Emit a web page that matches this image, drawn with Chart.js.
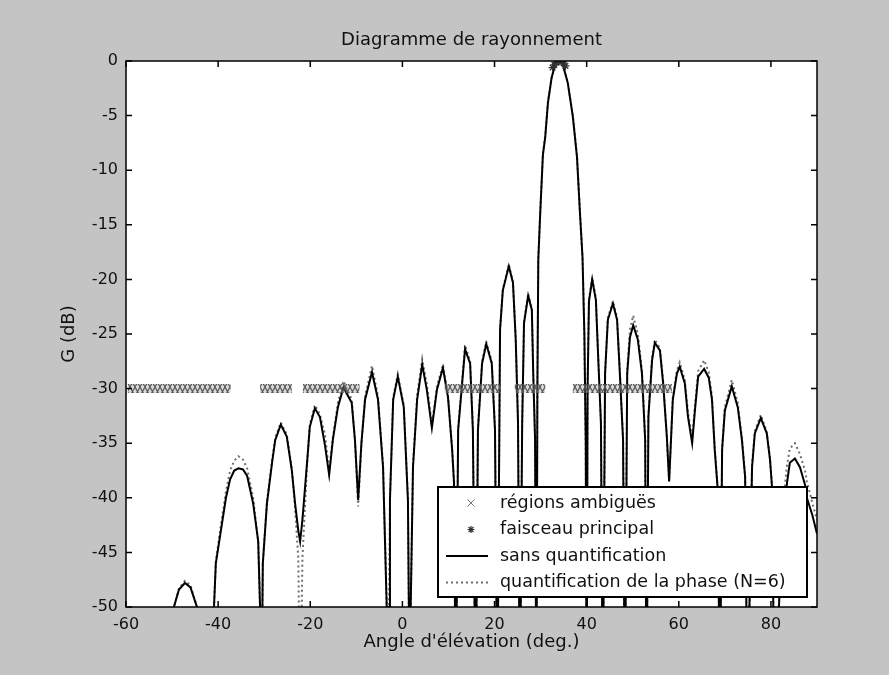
<!DOCTYPE html>
<html>
<head>
<meta charset="utf-8">
<script src="https://cdn.jsdelivr.net/npm/chart.js@4.4.0/dist/chart.umd.min.js"></script>
<style>
  html, body { margin: 0; padding: 0; background: #c4c4c4; }
</style>
</head>
<body>
<canvas id="myChart" width="889" height="675"></canvas>
<script>
// angle (deg) and gain (dB); nulls below -50 dB are clipped by the axis
const angle = [-60, -55, -51.5, -49.6, -48.5, -47.2, -46.0, -44.6, -43.0, -40.9,
  -40.5, -39.4, -38.3, -37.4, -36.5, -35.6, -34.6, -33.7, -32.4, -31.3,
  -30.9, -30.6, -30.3, -29.4, -28.3, -27.6, -26.4, -25.1, -24.0, -23.3,
  -22.6, -22.2, -21.7, -20.7, -20.1, -19.0, -17.9, -16.8, -15.9, -15.1,
  -14.0, -12.8, -11.0, -10.3, -9.6, -8.9, -8.1, -6.6, -5.3, -4.2,
  -3.4, -3.2, -2.9, -2.7, -2.0, -1.0, 0.3, 1.2, 1.4, 1.6,
  1.8, 2.3, 3.2, 4.3, 5.3, 6.4, 7.5, 8.8, 9.9, 10.8,
  11.2, 11.6, 12.1, 13.6, 14.7, 15.3, 15.9, 16.4, 17.3, 18.2,
  19.4, 20.1, 20.6, 21.2, 21.8, 23.1, 24.0, 24.6, 25.1, 25.5,
  26.0, 26.4, 27.3, 28.1, 28.4, 28.8, 29.1, 29.3, 29.5, 29.9,
  30.5, 31.0, 31.6, 32.4, 33.2, 34.0, 34.8, 35.9, 37.0, 37.9,
  38.5, 39.1, 39.5, 39.8, 40.0, 40.2, 40.5, 41.2, 42.0, 42.5,
  43.1, 43.5, 44.0, 44.6, 45.7, 46.6, 47.2, 47.9, 48.3, 48.8,
  49.4, 50.1, 51.1, 52.0, 52.7, 53.0, 53.4, 54.2, 54.8, 55.9,
  56.6, 57.4, 57.9, 58.7, 59.6, 60.2, 61.3, 62.0, 62.9, 63.5,
  64.2, 65.5, 66.5, 67.2, 67.8, 68.5, 68.9, 69.4, 70.0, 71.5,
  72.8, 73.7, 74.4, 74.9, 75.9, 76.5, 77.8, 79.1, 79.8, 80.2,
  80.8, 82.5, 83.5, 84.1, 85.2, 86.3, 87.4, 87.8, 89.0, 90.0]

const gainSans = [-62, -68, -62, -50, -48.4, -47.8, -48.2, -50, -64, -50,
  -46, -43, -40, -38.3, -37.5, -37.3, -37.4, -38, -40.5, -44,
  -50, -60, -46, -40.5, -36.8, -34.7, -33.3, -34.4, -37.5, -40.5,
  -43, -44, -42, -36.8, -33.5, -31.8, -32.6, -35.2, -37.9, -34.7,
  -31.7, -29.9, -31.3, -34.7, -40.2, -35, -31, -28.5, -31, -37.2,
  -50, -60, -50, -40.2, -31, -28.9, -31.7, -40.2, -50, -60,
  -50, -37.2, -31, -27.8, -30.1, -33.6, -30.1, -28.1, -30.8, -35.6,
  -38.6, -60, -33.8, -26.4, -27.7, -33.8, -60, -33.8, -27.7, -25.9,
  -27.7, -33.8, -60, -24.6, -21, -18.8, -20.3, -25.5, -33.2, -60,
  -33.2, -24, -21.5, -22.8, -28.6, -34.7, -60, -30, -18.2, -14.1,
  -8.6, -7, -3.8, -1.5, -0.3, 0, -0.3, -2, -5.1, -8.8,
  -13.6, -18, -25, -35, -60, -30, -22, -20, -21.9, -27.1,
  -33.2, -60, -28.6, -23.7, -22.2, -23.7, -28.6, -34.7, -60, -28.6,
  -25.3, -24.2, -25.5, -28.6, -34.7, -60, -32.6, -27.4, -25.8, -26.5,
  -29.5, -34.4, -38.5, -31, -28.6, -28, -29.5, -32.6, -35, -32,
  -28.9, -28.2, -29, -31, -35.6, -39.5, -60, -35.6, -32, -29.8,
  -31.7, -34.7, -38.1, -60, -37.2, -34.1, -32.7, -34.1, -36.5, -38.8,
  -60, -42, -38.6, -36.8, -36.4, -37.2, -38.8, -40, -41.6, -43.3]

const gainQuant = [-61, -67, -62, -50, -48.3, -47.6, -48, -50, -63, -50,
  -45.8, -42.5, -39.4, -37.5, -36.6, -36.2, -36.5, -37.3, -40, -44,
  -50, -60, -46, -40.3, -36.6, -34.5, -33.1, -34.2, -37.3, -41,
  -45.5, -60, -45.5, -37, -33.3, -31.5, -32.4, -34.2, -37.6, -34.5,
  -31.3, -29.3, -31, -34.8, -40.8, -35.2, -30.7, -27.9, -30.7, -37,
  -50, -60, -50, -40, -30.8, -28.7, -31.5, -40, -50, -60,
  -50, -37, -30.6, -27.3, -29.6, -33.3, -29.8, -27.8, -30.6, -35.5,
  -38.6, -60, -33.6, -26, -27.5, -33.6, -60, -33.6, -27.5, -25.7,
  -27.5, -33.6, -60, -24.5, -20.9, -18.6, -20.2, -25.4, -33, -60,
  -33, -23.9, -21.3, -22.7, -28.5, -34.6, -60, -30, -18, -14,
  -8.5, -6.8, -3.7, -1.5, -0.3, 0, -0.3, -2, -5, -8.7,
  -13.5, -18, -25, -35, -60, -30, -21.8, -19.8, -21.7, -27,
  -33, -60, -28.4, -23.5, -22, -23.5, -28.4, -34.6, -60, -28.2,
  -24.6, -23.3, -25, -28.3, -34.6, -60, -32.4, -27.1, -25.5, -26.3,
  -29.3, -34.3, -38.5, -30.8, -28.3, -27.6, -29.2, -32.2, -34.5, -31.6,
  -28.4, -27.4, -28.5, -30.7, -35.4, -39.5, -60, -35.4, -31.7, -29.2,
  -31.3, -34.5, -38, -60, -37, -33.9, -32.4, -34, -36.4, -38.8,
  -60, -41, -37, -35.5, -35, -36, -37.5, -38.5, -40.5, -42]

// ambiguous regions, drawn at -30 dB
const regionStart = [-59.6, -30.9, -21.6, 9.2, 24.4, 37.0]
const regionEnd = [-37.3, -24.0, -9.3, 21.2, 31.0, 58.5]
const regionLevel = -30

// main beam markers
const beamAngle = [32.6, 33.0, 33.4, 33.8, 34.2, 34.6, 35.0, 35.4]
const beamGain = [-0.6, -0.35, -0.15, -0.03, 0, -0.05, -0.2, -0.45]

const xTicks = [-60, -40, -20, 0, 20, 40, 60, 80]
const yTicks = [-50, -45, -40, -35, -30, -25, -20, -15, -10, -5, 0]

const legendLabels = ['régions ambiguës', 'faisceau principal', 'sans quantification', 'quantification de la phase (N=6)']

const FONT = "'DejaVu Sans', sans-serif"
const TXT = '#111'

function points(xs, ys) {
  return xs.map((x, i) => ({ x: x, y: ys[i] }))
}

let regionData = []
regionStart.forEach((s, i) => {
  regionData.push({ x: s, y: regionLevel }, { x: regionEnd[i], y: regionLevel }, { x: regionEnd[i], y: null })
})

// dense little x's, like a row of markers
function crossPattern() {
  const c = document.createElement('canvas')
  c.width = 5
  c.height = 9
  const g = c.getContext('2d')
  g.fillStyle = 'rgba(150,150,150,0.35)'
  g.fillRect(0, 0, 5, 9)
  g.strokeStyle = '#555'
  g.lineWidth = 1.1
  g.beginPath()
  g.moveTo(0, 0); g.lineTo(5, 9)
  g.moveTo(5, 0); g.lineTo(0, 9)
  g.stroke()
  return g.createPattern(c, 'repeat')
}

// box, inward ticks and the legend in the lower right corner
const frameLegend = {
  id: 'frameLegend',
  beforeDatasetsDraw(chart) {
    const { ctx, chartArea: a } = chart
    ctx.save()
    ctx.fillStyle = '#fff'
    ctx.fillRect(a.left, a.top, a.right - a.left, a.bottom - a.top)
    ctx.restore()
  },
  afterDraw(chart) {
    const { ctx, chartArea: a } = chart
    const x = chart.scales.x, y = chart.scales.y
    ctx.save()
    ctx.strokeStyle = '#000'
    ctx.lineWidth = 1.5
    ctx.strokeRect(a.left, a.top, a.right - a.left, a.bottom - a.top)
    ctx.beginPath()
    xTicks.forEach(v => {
      const px = x.getPixelForValue(v)
      ctx.moveTo(px, a.bottom); ctx.lineTo(px, a.bottom - 6)
      ctx.moveTo(px, a.top); ctx.lineTo(px, a.top + 6)
    })
    yTicks.forEach(v => {
      const py = y.getPixelForValue(v)
      ctx.moveTo(a.left, py); ctx.lineTo(a.left + 6, py)
      ctx.moveTo(a.right, py); ctx.lineTo(a.right - 6, py)
    })
    ctx.stroke()

    const w = 369, h = 110
    const lx = a.right - 10 - w, ly = a.bottom - 10 - h
    ctx.fillStyle = '#fff'
    ctx.fillRect(lx, ly, w, h)
    ctx.lineWidth = 2
    ctx.strokeRect(lx, ly, w, h)

    ctx.font = '17.5px ' + FONT
    ctx.textBaseline = 'middle'
    ctx.textAlign = 'left'
    legendLabels.forEach((t, i) => {
      const ry = ly + 16 + i * 26.5
      const sx = lx + 33
      ctx.beginPath()
      if (i === 0) {
        ctx.strokeStyle = '#777'; ctx.lineWidth = 1; ctx.setLineDash([])
        ctx.moveTo(sx - 3.5, ry - 3.5); ctx.lineTo(sx + 3.5, ry + 3.5)
        ctx.moveTo(sx + 3.5, ry - 3.5); ctx.lineTo(sx - 3.5, ry + 3.5)
      } else if (i === 1) {
        ctx.strokeStyle = '#333'; ctx.lineWidth = 1.2; ctx.setLineDash([])
        for (let k = 0; k < 4; k++) {
          const ang = k * Math.PI / 4
          ctx.moveTo(sx - 3.5 * Math.cos(ang), ry - 3.5 * Math.sin(ang))
          ctx.lineTo(sx + 3.5 * Math.cos(ang), ry + 3.5 * Math.sin(ang))
        }
      } else if (i === 2) {
        ctx.strokeStyle = '#000'; ctx.lineWidth = 2; ctx.setLineDash([])
        ctx.moveTo(lx + 8, ry); ctx.lineTo(lx + 50, ry)
      } else {
        ctx.strokeStyle = '#6e6e6e'; ctx.lineWidth = 2; ctx.setLineDash([2, 3])
        ctx.moveTo(lx + 8, ry); ctx.lineTo(lx + 50, ry)
      }
      ctx.stroke()
      ctx.setLineDash([])
      ctx.fillStyle = TXT
      ctx.fillText(t, lx + 62, ry)
    })
    ctx.restore()
  }
}

const ctx = document.getElementById('myChart').getContext('2d')

const chart = new Chart(ctx, {
  type: 'line',
  data: {
    datasets: [
      {
        label: legendLabels[0],
        data: regionData,
        borderColor: crossPattern(),
        borderWidth: 9,
        pointRadius: 0,
        spanGaps: false
      },
      {
        label: legendLabels[1],
        data: points(beamAngle, beamGain),
        showLine: false,
        pointStyle: 'star',
        pointRadius: 4,
        borderColor: '#333',
        backgroundColor: '#333',
        pointBorderWidth: 1.2
      },
      {
        label: legendLabels[2],
        data: points(angle, gainSans),
        borderColor: '#000',
        borderWidth: 2,
        pointRadius: 0,
        tension: 0
      },
      {
        label: legendLabels[3],
        data: points(angle, gainQuant),
        borderColor: '#6e6e6e',
        borderWidth: 2,
        borderDash: [2, 3],
        pointRadius: 0,
        tension: 0
      }
    ]
  },
  options: {
    responsive: false,
    animation: false,
    layout: { padding: { left: 0, right: 72, top: 0, bottom: 0 } },
    plugins: {
      legend: { display: false },
      tooltip: { enabled: false },
      title: {
        display: true,
        text: 'Diagramme de rayonnement',
        fullSize: false,
        color: TXT,
        font: { family: FONT, size: 18, weight: 'normal' },
        padding: { top: 30, bottom: 9.4 }
      }
    },
    scales: {
      x: {
        type: 'linear',
        min: -60,
        max: 90,
        afterBuildTicks: s => { s.ticks = xTicks.map(v => ({ value: v })) },
        afterFit: s => { s.height = 68 },
        grid: { display: false, drawTicks: false },
        border: { display: false },
        ticks: { padding: 8, color: TXT, font: { family: FONT, size: 16 }, maxRotation: 0, autoSkip: false },
        title: {
          display: true,
          text: "Angle d'élévation (deg.)",
          color: TXT,
          font: { family: FONT, size: 18 },
          padding: { top: 0, bottom: 22 }
        }
      },
      y: {
        type: 'linear',
        min: -50,
        max: 0,
        afterBuildTicks: s => { s.ticks = yTicks.map(v => ({ value: v })) },
        afterFit: s => { s.width = 126 },
        grid: { display: false, drawTicks: false },
        border: { display: false },
        ticks: { padding: 8, color: TXT, font: { family: FONT, size: 16 }, autoSkip: false },
        title: {
          display: true,
          text: 'G (dB)',
          color: TXT,
          font: { family: FONT, size: 18 },
          padding: { top: 59, bottom: 0 }
        }
      }
    }
  },
  plugins: [frameLegend]
})
</script>
</body>
</html>
